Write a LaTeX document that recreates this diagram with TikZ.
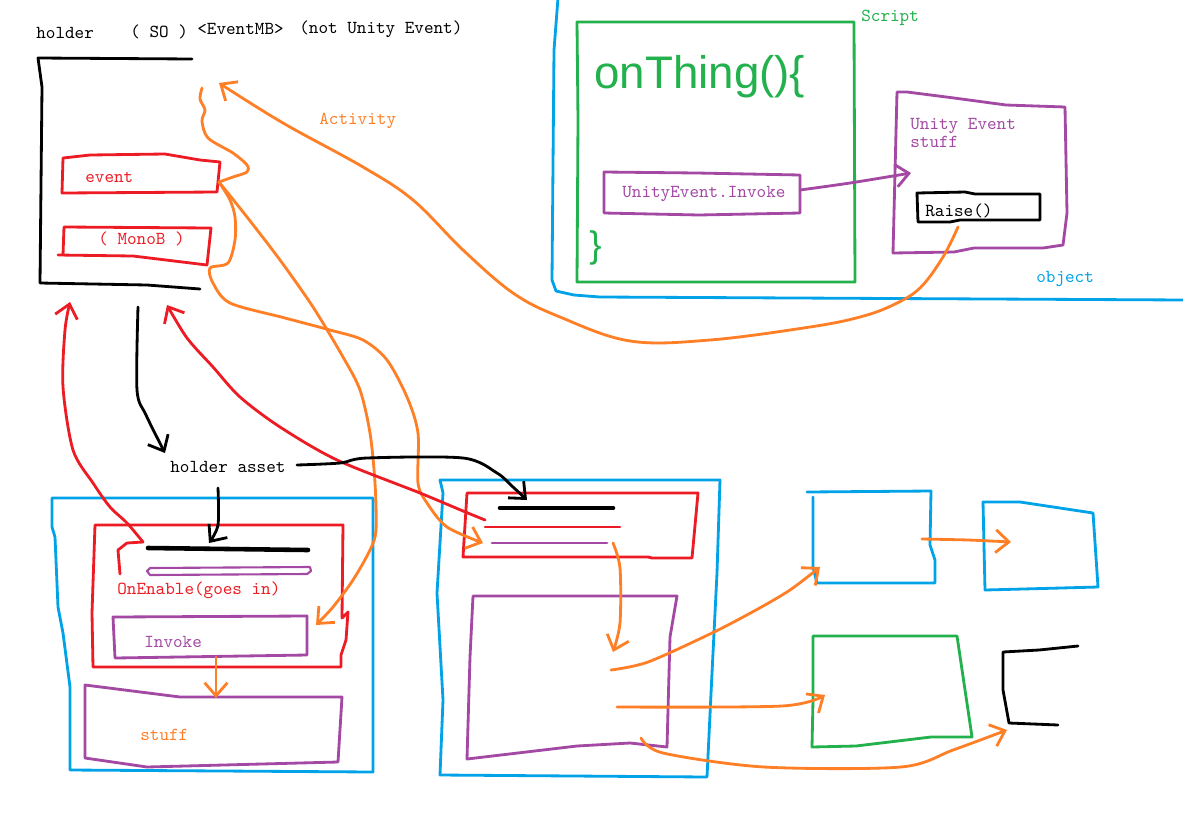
\documentclass[tikz,border=0pt]{standalone}
\usepackage{fontspec}
\newfontfamily\sketchfont{Liberation Sans}
\usetikzlibrary{arrows.meta, positioning, calc}
\definecolor{paintred}{HTML}{ED1C24}
\definecolor{paintorange}{HTML}{FF7F27}
\definecolor{paintgreen}{HTML}{22B14C}
\definecolor{paintblue}{HTML}{00A2E8}
\definecolor{paintpurple}{HTML}{A349A4}

\begin{document}
\begin{tikzpicture}[x=0.02cm, y=-0.02cm, line cap=round, line join=round,
    ink/.style={line width=1.6pt},
    txt/.style={font=\ttfamily\fontsize{10.4}{10.2}\selectfont, inner sep=0pt, anchor=west, align=left},
    >={Straight Barb[length=7.5pt, width=13pt]}]

    % Rahmen
    \useasboundingbox (0,0) rectangle (1183,839);
    \fill[white] (0,0) rectangle (1183,839);

    % Holder (SO)
    \node[txt] (holder) at (36,33) {holder};
    \node[txt] (so) at (130,32) {( SO )};
    \node[txt] (eventmb) at (197,29) {<EventMB>};
    \node[txt] (notunity) at (299,29) {(not Unity Event)};
    \draw[ink] (192,59) -- (38,58) -- (42,87) -- (40,283) -- (147,285) -- (200,289);
    \draw[ink, paintred] (63,158) -- (90,155) -- (165,154) -- (200,160) -- (220,162) -- (217,192) -- (62,193) -- cycle;
    \node[txt, text=paintred] (event) at (85,177) {event};
    \draw[ink, paintred] (63,255) -- (64,227) -- (211,228) -- (207,265) -- (133,256) -- (58,255);
    \node[txt, text=paintred] (monob) at (98,239) {( MonoB )};
    \node[txt, text=paintorange] (activity) at (319,121) {Activity};

    % Object mit Script
    \draw[ink, paintblue] (558,-2) -- (554,50) -- (552,280) -- (556,291) -- (574,295) -- (600,297) -- (1185,300);
    \node[txt, text=paintblue] (object) at (1036,279) {object};
    \draw[ink, paintgreen] (577,22) -- (854,22) -- (855,282) -- (577,282) -- (578,120) -- cycle;
    \node[txt, text=paintgreen] (script) at (861,18) {Script};
    \node[font=\sketchfont\fontsize{26}{28}\selectfont, text=paintgreen, inner sep=0pt, anchor=base west] (onthing) at (594,88) {onThing()\{};
    \node[font=\sketchfont\fontsize{21}{24}\selectfont, text=paintgreen, inner sep=0pt, anchor=west] (closebrace) at (589,248) {\}};
    \draw[ink, paintpurple] (604,172) -- (697,173) -- (800,175) -- (800,213) -- (699,215) -- (604,213) -- cycle;
    \node[txt, text=paintpurple] (ueinvoke) at (622,194) {UnityEvent.Invoke};

    % Unity Event stuff
    \draw[ink, paintpurple] (897,92) -- (907,92) -- (954,98) -- (1006,105) -- (1065,107) -- (1067,213) -- (1063,245) -- (1043,248) -- (974,248) -- (954,252) -- (893,253) -- cycle;
    \node[txt, text=paintpurple] (uestuff) at (910,133) {Unity Event\\stuff};
    \draw[ink] (917,193) -- (965,192) -- (975,194) -- (1040,194) -- (1040,220) -- (960,220) -- (950,222) -- (918,222) -- cycle;
    \node[txt] (raise) at (925,211) {Raise()};

    % Pfeil Invoke -> Unity Event
    \coordinate (ueOut) at (800,190);
    \coordinate (ueIn) at (911,173);
    \draw[ink, paintpurple, ->] plot[smooth] coordinates {(ueOut) (850,183) (ueIn)};

    % Holder asset
    \node[txt] (asset) at (170,467) {holder asset};
    \draw[ink, paintblue] (52,498) -- (373,498) -- (373,772) -- (70,770) -- (70,687) -- (63,633) -- (58,607) -- (55,537) -- (52,527) -- cycle;
    \draw[ink, paintred] (95,525) -- (343,525) -- (342,618) -- (348,612) -- (346,640) -- (341,655) -- (341,667) -- (93,667) -- (92,613) -- cycle;
    \draw[line width=2.6pt] (148,548) -- (308,550);
    \draw[line width=1.2pt, paintpurple] (150,568) -- (310,567) -- (311,571) -- (307,574) -- (150,575) -- (147,571) -- cycle;
    \node[txt, text=paintred] (onenable) at (117,590) {OnEnable(goes in)};
    \draw[ink, paintpurple] (113,617) -- (307,616) -- (307,655) -- (115,658) -- cycle;
    \node[txt, text=paintpurple] (invoke) at (144,642) {Invoke};
    \draw[ink, paintpurple] (85,685) -- (180,697) -- (342,697) -- (338,762) -- (147,767) -- (85,758) -- cycle;
    \node[txt, text=paintorange] (stuff) at (140,735) {stuff};
    \draw[ink, paintred] (120,574) -- (118,550) -- (127,543) -- (143,542);

    % Mittlere Box
    \draw[ink, paintblue] (440,480) -- (720,480) -- (717,573) -- (712,673) -- (707,777) -- (440,775) -- (443,700) -- (437,593) -- (443,493) -- cycle;
    \draw[ink, paintred] (467,493) -- (698,493) -- (692,558) -- (652,558) -- (648,557) -- (463,557) -- cycle;
    \draw[line width=2.6pt] (500,508) -- (613,508);
    \draw[ink, paintred] (485,527) -- (620,527);
    \draw[ink, paintpurple] (492,543) -- (607,543);
    \draw[ink, paintpurple] (473,596) -- (677,596) -- (670,637) -- (667,747) -- (630,743) -- (577,746) -- (467,759) -- (470,657) -- cycle;

    % Rechte Boxen
    \draw[ink, paintblue] (807,492) -- (931,491) -- (930,545) -- (935,560) -- (935,583) -- (817,583) -- (813,567) -- (813,497);
    \draw[ink, paintblue] (983,502) -- (1020,502) -- (1093,513) -- (1098,587) -- (1061,588) -- (985,590) -- cycle;
    \draw[ink, paintgreen] (813,636) -- (957,636) -- (972,737) -- (931,737) -- (856,746) -- (812,747) -- (813,700) -- cycle;
    \draw[ink] (1078,646) -- (1039,650) -- (1003,652) -- (1003,690) -- (1009,723) -- (1058,725);

    % Orange Pfeile oben
    \coordinate (raiseOut) at (958,227);
    \coordinate (holderIn) at (219,83);
    \coordinate (eventEast) at (219,182);
    \coordinate (invokeIn) at (316,625);
    \coordinate (midIn) at (483,543);
    \draw[ink, paintorange, ->] plot[smooth, tension=0.6] coordinates {(raiseOut) (943,257) (920,288) (893,305) (860,317) (810,327) (710,340) (630,341) (560,317) (513,293) (463,250) (413,200) (363,167) (283,123) (holderIn)};
    \draw[ink, paintorange] plot[smooth, tension=0.5] coordinates {(eventEast) (233,177) (247,172) (247,165) (233,153) (208,138) (202,121) (205,110) (200,99) (202,88)};
    \draw[ink, paintorange, ->] plot[smooth, tension=0.5] coordinates {(eventEast) (230,200) (235,217) (235,240) (228,263) (210,268) (213,283) (230,303) (285,318) (330,330) (363,340) (387,360) (407,397) (418,433) (418,483) (427,503) (447,527) (midIn)};
    \draw[ink, paintorange, ->] plot[smooth, tension=0.5] coordinates {(eventEast) (247,217) (280,260) (313,307) (343,357) (360,390) (370,433) (375,483) (376,530) (370,550) (353,580) (333,607) (invokeIn)};

    % Rote Pfeile
    \coordinate (enableOut) at (143,542);
    \coordinate (holderLeft) at (70,302);
    \coordinate (midOut) at (485,520);
    \coordinate (holderMid) at (167,305);
    \draw[ink, paintred, ->] plot[smooth, tension=0.5] coordinates {(enableOut) (127,523) (110,507) (93,483) (73,450) (63,387) (65,330) (holderLeft)};
    \draw[ink, paintred, ->] plot[smooth, tension=0.5] coordinates {(midOut) (463,511) (420,493) (337,460) (280,427) (240,397) (213,367) (187,338) (holderMid)};

    % Schwarze Pfeile
    \coordinate (holderBottom) at (138,307);
    \coordinate (assetIn) at (165,453);
    \coordinate (assetDown) at (218,488);
    \coordinate (enableIn) at (209,543);
    \coordinate (assetRight) at (297,465);
    \coordinate (midTop) at (527,500);
    \draw[ink, ->] plot[smooth, tension=0.5] coordinates {(holderBottom) (137,390) (146,415) (assetIn)};
    \draw[ink, ->] plot[smooth, tension=0.5] coordinates {(assetDown) (218,525) (enableIn)};
    \draw[ink, ->] plot[smooth, tension=0.5] coordinates {(assetRight) (340,463) (367,458) (463,458) (497,473) (513,487) (midTop)};

    % Orange Pfeile unten
    \coordinate (invokeOut) at (216,657);
    \coordinate (stuffIn) at (216,698);
    \draw[ink, paintorange, ->] (invokeOut) -- (stuffIn);
    \coordinate (lineOut) at (613,543);
    \coordinate (boxIn) at (613,652);
    \draw[ink, paintorange, ->] plot[smooth, tension=0.5] coordinates {(lineOut) (620,568) (620,623) (boxIn)};
    \coordinate (outA) at (611,670);
    \coordinate (blueIn) at (820,567);
    \draw[ink, paintorange, ->] plot[smooth, tension=0.5] coordinates {(outA) (648,662) (712,633) (756,610) (790,590) (blueIn)};
    \coordinate (outB) at (617,707);
    \coordinate (greenIn) at (825,695);
    \draw[ink, paintorange, ->] plot[smooth, tension=0.5] coordinates {(outB) (782,706) (greenIn)};
    \coordinate (outC) at (641,738);
    \coordinate (bracketIn) at (1007,730);
    \draw[ink, paintorange, ->] plot[smooth, tension=0.5] coordinates {(outC) (663,753) (764,767) (901,767) (953,750) (bracketIn)};
    \coordinate (blueOut) at (922,539);
    \coordinate (blueTwoIn) at (1011,542);
    \draw[ink, paintorange, ->] plot[smooth, tension=0.5] coordinates {(blueOut) (968,540) (blueTwoIn)};

\end{tikzpicture}
\end{document}
